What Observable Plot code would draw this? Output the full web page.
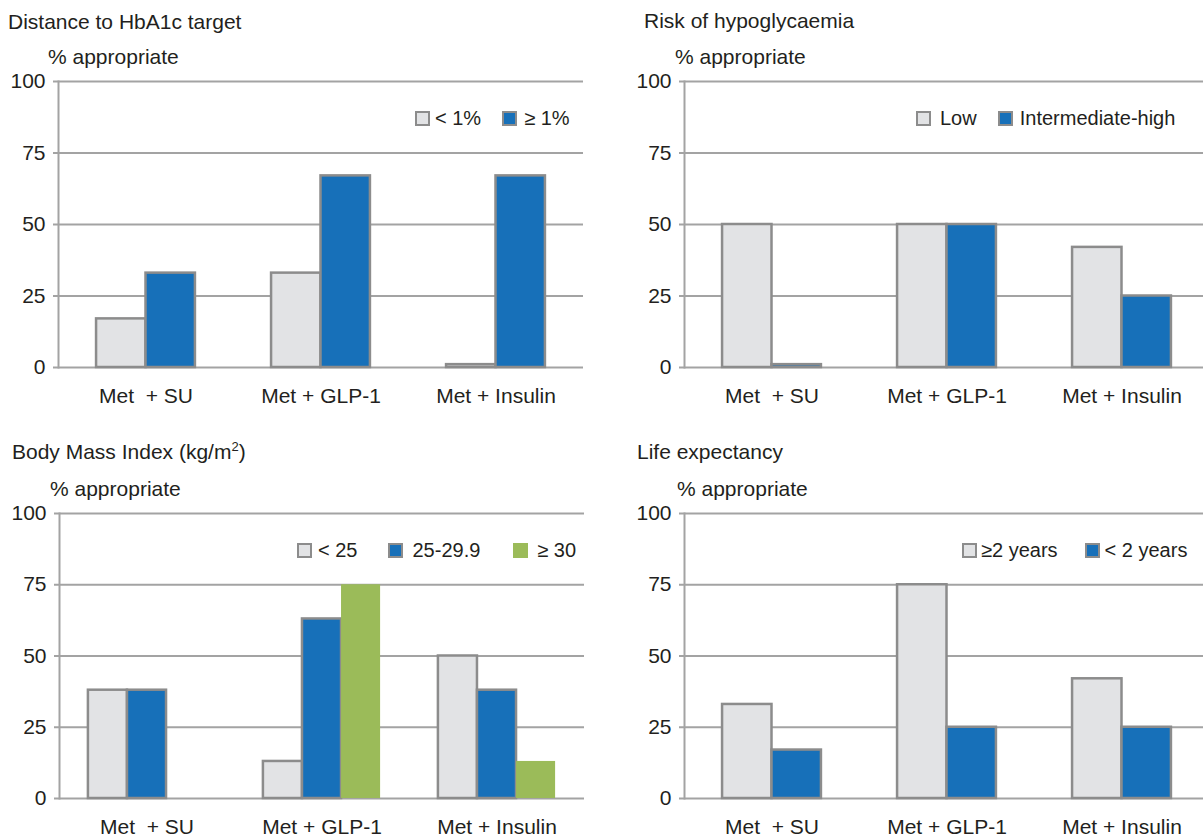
<!DOCTYPE html>
<html>
<head>
<meta charset="utf-8">
<script src="https://cdn.jsdelivr.net/npm/d3@7"></script>
<script src="https://cdn.jsdelivr.net/npm/@observablehq/plot@0.6"></script>
<style>
  html, body { margin: 0; padding: 0; background: #fff; }
  body { width: 1203px; height: 839px; overflow: hidden; position: relative;
         font-family: "Liberation Sans", Arial, Helvetica, sans-serif; color: #231f20; }
  .abs { position: absolute; white-space: nowrap; line-height: 1; transform: translateY(-50%); }
  .title, .ylab { font-size: 21px; }
  .legend { display: flex; align-items: center; font-size: 20px; }
  .sw { width: 15px; height: 15px; box-sizing: border-box; display: inline-block; }
  .plotbox { position: absolute; }
  .plotbox svg { max-width: none !important; display: block; }
  sup { font-size: 0.62em; vertical-align: 0.55em; line-height: 0; }
</style>
</head>
<body>
<script>
// ---------------- DATA ----------------
const groups = ["Met\u00a0 + SU", "Met + GLP-1", "Met + Insulin"];
const yTicks = [0, 25, 50, 75, 100];

// Panel 1: Distance to HbA1c target
const hba1cSeries = ["< 1%", "\u2265 1%"];
const hba1cLow  = [17, 33, 1];
const hba1cHigh = [33, 67, 67];

// Panel 2: Risk of hypoglycaemia
const hypoSeries = ["Low", "Intermediate-high"];
const hypoLow  = [50, 50, 42];
const hypoHigh = [1, 50, 25];

// Panel 3: Body Mass Index
const bmiSeries = ["< 25", "25-29.9", "\u2265 30"];
const bmiUnder25 = [38, 13, 50];
const bmi25to30  = [38, 63, 38];
const bmiOver30  = [0, 75, 13];

// Panel 4: Life expectancy
const lifeSeries = ["\u22652 years", "< 2 years"];
const lifeLong  = [33, 75, 42];
const lifeShort = [17, 25, 25];

// ---------------- STYLE ----------------
const FONT = '"Liberation Sans", Arial, Helvetica, sans-serif';
const TEXT = "#231f20";
const GRID = "#a3a3a3";
const OUTLINE = "#8c8c8c";
const LIGHT = "#e2e3e5";
const BLUE = "#1770b9";
const GREEN = "#9bbb59";

function buildRows(series, valueLists) {
  return groups.flatMap((g, i) => series.map((s, j) => ({group: g, series: s, value: valueLists[j][i]})));
}

function panel(cfg) {
  const rows = buildRows(cfg.series, cfg.values);
  const outlinedSet = new Set(cfg.series.filter((s, j) => cfg.outlined[j]));
  const chart = Plot.plot({
    width: cfg.width, height: cfg.height,
    marginLeft: cfg.marginLeft, marginRight: cfg.marginRight,
    marginTop: cfg.marginTop, marginBottom: cfg.marginBottom,
    style: {fontFamily: FONT, fontSize: "21px", color: TEXT, background: "transparent", overflow: "visible", maxWidth: "none"},
    fx: {domain: groups, padding: 0, axis: "bottom", tickSize: 0, tickPadding: 21, label: null},
    x: {domain: cfg.series, axis: null, paddingInner: 0, paddingOuter: cfg.paddingOuter, round: false},
    y: {domain: [0, 100], axis: null},
    color: {domain: cfg.series, range: cfg.colors},
    marks: [
      Plot.gridY(yTicks, {stroke: GRID, strokeOpacity: 1, strokeWidth: 2}),
      Plot.axisY(yTicks, {tickSize: 5, tickPadding: 8, stroke: GRID, strokeOpacity: 1, strokeWidth: 2, fill: TEXT, label: null}),
      Plot.frame({anchor: "left", stroke: GRID, strokeOpacity: 1, strokeWidth: 2, facetAnchor: "left"}),
      Plot.barY(rows.filter(d => outlinedSet.has(d.series)),
        {fx: "group", x: "series", y: "value", fill: "series", stroke: OUTLINE, strokeWidth: 2.5}),
      Plot.barY(rows.filter(d => !outlinedSet.has(d.series)),
        {fx: "group", x: "series", y: "value", fill: "series"})
    ]
  });
  const box = document.createElement("div");
  box.className = "plotbox";
  box.style.left = cfg.left + "px";
  box.style.top = cfg.top + "px";
  box.style.width = cfg.width + "px";
  box.style.height = cfg.height + "px";
  box.appendChild(chart);
  document.body.appendChild(box);

  const t = document.createElement("div");
  t.className = "abs title";
  t.style.left = cfg.titleX + "px"; t.style.top = cfg.titleY + "px";
  t.innerHTML = cfg.title;
  document.body.appendChild(t);

  const yl = document.createElement("div");
  yl.className = "abs ylab";
  yl.style.left = cfg.ylabX + "px"; yl.style.top = cfg.ylabY + "px";
  yl.textContent = "% appropriate";
  document.body.appendChild(yl);

  const lg = document.createElement("div");
  lg.className = "abs legend";
  lg.style.left = cfg.legendX + "px"; lg.style.top = cfg.legendY + "px";
  cfg.series.forEach((s, j) => {
    const sw = document.createElement("span");
    sw.className = "sw";
    sw.style.background = cfg.colors[j];
    if (cfg.outlined[j]) sw.style.border = "2px solid " + OUTLINE;
    sw.style.marginLeft = (j === 0 ? 0 : cfg.legendGap[j - 1]) + "px";
    const tx = document.createElement("span");
    tx.textContent = s;
    tx.style.marginLeft = cfg.swGap[j] + "px";
    lg.appendChild(sw); lg.appendChild(tx);
  });
  document.body.appendChild(lg);
}

panel({
  title: "Distance to HbA1c target", titleX: 8, titleY: 21,
  ylabX: 48, ylabY: 56,
  series: hba1cSeries, values: [hba1cLow, hba1cHigh], colors: [LIGHT, BLUE], outlined: [true, true],
  left: 0, top: 0, width: 600, height: 420, marginLeft: 58, marginRight: 17, marginTop: 81, marginBottom: 53,
  paddingOuter: 0.77,
  legendX: 415, legendY: 118, legendGap: [21], swGap: [5, 7]
});
panel({
  title: "Risk of hypoglycaemia", titleX: 644, titleY: 20,
  ylabX: 675, ylabY: 56,
  series: hypoSeries, values: [hypoLow, hypoHigh], colors: [LIGHT, BLUE], outlined: [true, true],
  left: 600, top: 0, width: 620, height: 420, marginLeft: 84, marginRight: 11, marginTop: 81, marginBottom: 53,
  paddingOuter: 0.77,
  legendX: 916, legendY: 118, legendGap: [21], swGap: [9, 7]
});
panel({
  title: "Body Mass Index (kg/m<sup>2</sup>)", titleX: 12, titleY: 451,
  ylabX: 50, ylabY: 488,
  series: bmiSeries, values: [bmiUnder25, bmi25to30, bmiOver30], colors: [LIGHT, BLUE, GREEN], outlined: [true, true, false],
  left: 0, top: 420, width: 600, height: 419, marginLeft: 59, marginRight: 16, marginTop: 93, marginBottom: 41,
  paddingOuter: 0.74,
  legendX: 297, legendY: 550, legendGap: [31, 33], swGap: [6, 9, 9]
});
panel({
  title: "Life expectancy", titleX: 637, titleY: 451,
  ylabX: 677, ylabY: 488,
  series: lifeSeries, values: [lifeLong, lifeShort], colors: [LIGHT, BLUE], outlined: [true, true],
  left: 600, top: 420, width: 620, height: 419, marginLeft: 84, marginRight: 11, marginTop: 93, marginBottom: 41,
  paddingOuter: 0.77,
  legendX: 962, legendY: 550, legendGap: [27], swGap: [4, 5]
});
</script>
</body>
</html>
